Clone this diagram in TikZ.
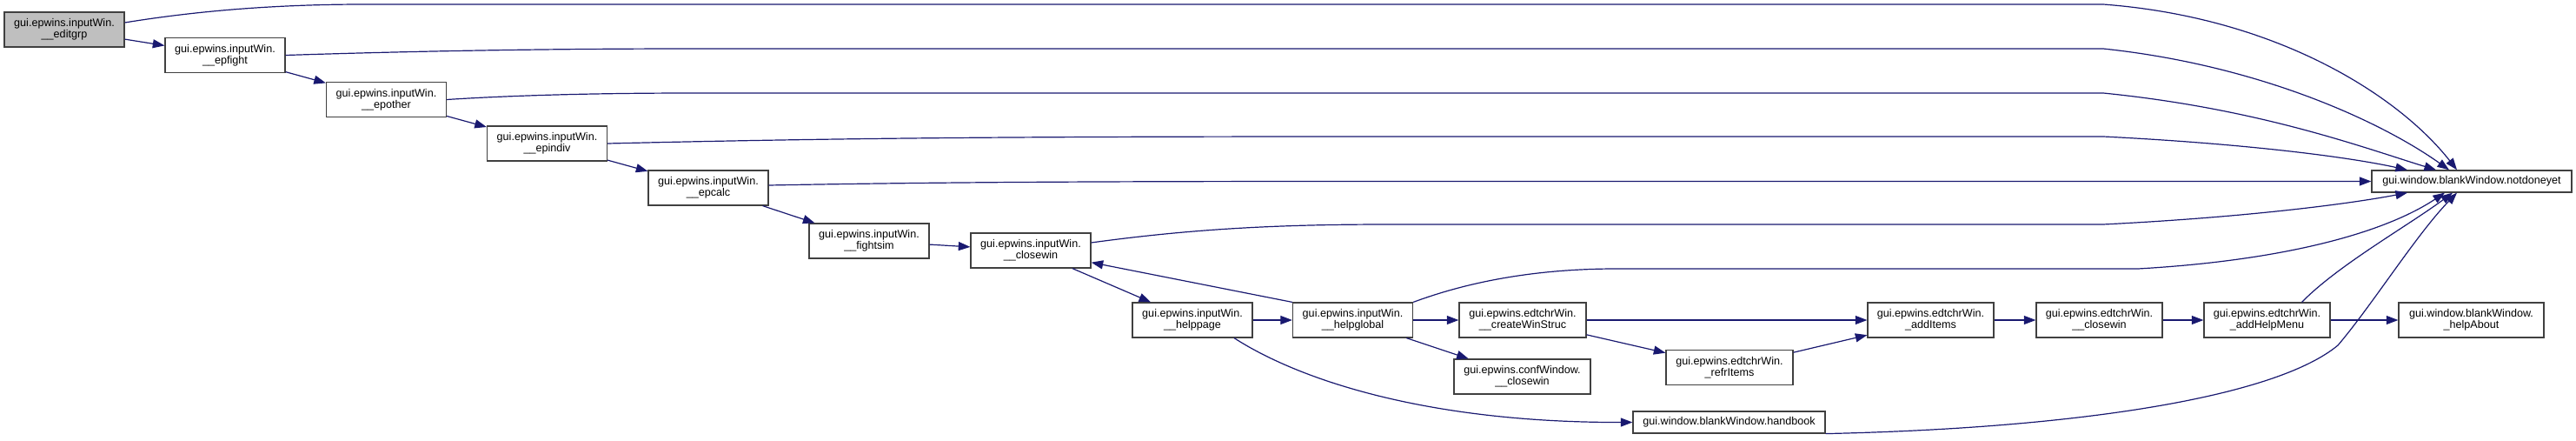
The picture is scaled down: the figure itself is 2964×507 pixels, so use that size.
\documentclass[tikz,border=0pt]{standalone}
\usepackage{fontspec}
\setmainfont{Liberation Sans}
\usetikzlibrary{arrows.meta}
\definecolor{dnavy}{HTML}{191970}
\definecolor{dgray}{HTML}{404040}
\definecolor{dfill}{HTML}{BFBFBF}

\begin{document}
\begin{tikzpicture}[x=0.5pt, y=-0.5pt,
  fn/.style={rectangle, draw=dgray, line width=0.6pt, fill=white, align=center,
    font=\fontsize{6.3pt}{6.65pt}\selectfont, inner sep=0pt, minimum width=69pt, minimum height=20pt},
  fn1/.style={fn, minimum height=12.5pt},
  call/.style={-{Triangle[length=6.8pt,width=5pt]}, draw=dnavy, line width=0.6pt}
]
\useasboundingbox (0,0) rectangle (2964,507);

\node[fn, fill=dfill] (editgrp) at (74,34) {gui.epwins.inputWin.\\\_\_editgrp};
\node[fn] (epfight) at (259,63.5) {gui.epwins.inputWin.\\\_\_epfight};
\node[fn] (epother) at (444.5,114.5) {gui.epwins.inputWin.\\\_\_epother};
\node[fn] (epindiv) at (629.5,165) {gui.epwins.inputWin.\\\_\_epindiv};
\node[fn] (epcalc) at (815,216) {gui.epwins.inputWin.\\\_\_epcalc};
\node[fn] (fightsim) at (1000,277) {gui.epwins.inputWin.\\\_\_fightsim};
\node[fn] (closewin) at (1186,288) {gui.epwins.inputWin.\\\_\_closewin};
\node[fn] (helppage) at (1372,368) {gui.epwins.inputWin.\\\_\_helppage};
\node[fn] (helpglobal) at (1556.5,368) {gui.epwins.inputWin.\\\_\_helpglobal};
\node[fn, minimum width=73pt] (createws) at (1752,368) {gui.epwins.edtchrWin.\\\_\_createWinStruc};
\node[fn, minimum width=78.5pt] (confclose) at (1751.5,433) {gui.epwins.confWindow.\\\_\_closewin};
\node[fn, minimum width=73pt] (refritems) at (1990,422.5) {gui.epwins.edtchrWin.\\\_refrItems};
\node[fn, minimum width=72.5pt] (additems) at (2221.5,368) {gui.epwins.edtchrWin.\\\_addItems};
\node[fn, minimum width=72.5pt] (edtclose) at (2415.5,368) {gui.epwins.edtchrWin.\\\_\_closewin};
\node[fn, minimum width=72.5pt] (helpmenu) at (2608.5,368) {gui.epwins.edtchrWin.\\\_addHelpMenu};
\node[fn, minimum width=83.5pt] (helpabout) at (2843.5,368) {gui.window.blankWindow.\\\_helpAbout};
\node[fn1, minimum width=110.5pt] (handbook) at (1989.5,485.5) {gui.window.blankWindow.handbook};
\node[fn1, minimum width=115pt] (notdone) at (2844,208.5) {gui.window.blankWindow.notdoneyet};

\draw[call] (editgrp) -- (epfight);
\draw[call] (epfight) -- (epother);
\draw[call] (epother) -- (epindiv);
\draw[call] (epindiv) -- (epcalc);
\draw[call] (epcalc) -- (fightsim);
\draw[call] (fightsim) -- (closewin);
\draw[call] (closewin) -- (helppage);
\draw[call] (helppage) -- (helpglobal);
\draw[call] (helpglobal.north west) -- (closewin);
\draw[call] (helpglobal) -- (createws);
\draw[call] (helpglobal) -- (confclose);
\draw[call] (createws) -- (additems);
\draw[call] (createws) -- (refritems);
\draw[call] (refritems) -- (additems);
\draw[call] (additems) -- (edtclose);
\draw[call] (edtclose) -- (helpmenu);
\draw[call] (helpmenu) -- (helpabout);
\draw[call] ([xshift=24pt]helppage.south) .. controls (1500,440) and (1650,486) .. (handbook.west);

\draw[call] ([yshift=4pt]editgrp.east) .. controls (230,12) and (320,5) .. (420,5) -- (2420,5)
  .. controls (2620,20) and (2760,110) .. ([xshift=-8.5pt]notdone.north);
\draw[call] (epfight.east) .. controls (500,58) and (650,56) .. (800,56) -- (2420,56)
  .. controls (2600,75) and (2740,140) .. ([xshift=-13pt]notdone.north);
\draw[call] (epother.east) .. controls (600,109) and (700,107) .. (800,107) -- (2420,107)
  .. controls (2600,125) and (2720,170) .. ([xshift=-20.5pt]notdone.north);
\draw[call] (epindiv.east) .. controls (1000,158) and (1200,157) .. (1600,157) -- (2420,157)
  .. controls (2580,165) and (2700,180) .. ([xshift=-37pt]notdone.north);
\draw[call] ([yshift=1.5pt]epcalc.east) .. controls (1100,209) and (1300,208.5) .. (1600,208.5) -- (notdone.west);
\draw[call] ([yshift=4.5pt]closewin.east) .. controls (1380,262) and (1480,258) .. (1600,258) -- (2420,258)
  .. controls (2580,250) and (2700,235) .. ([xshift=-37pt]notdone.south);
\draw[call] (helpglobal.north east) .. controls (1700,320) and (1780,309) .. (1860,309) -- (2460,309)
  .. controls (2620,300) and (2740,270) .. ([xshift=-15.5pt]notdone.south);
\draw[call] ([xshift=20pt]helpmenu.north) .. controls (2690,305) and (2770,260) .. ([xshift=-11pt]notdone.south);
\draw[call] (handbook.south east) .. controls (2400,492) and (2620,455) .. (2690,397)
  .. controls (2730,350) and (2780,270) .. ([xshift=-8.5pt]notdone.south);
\end{tikzpicture}
\end{document}
